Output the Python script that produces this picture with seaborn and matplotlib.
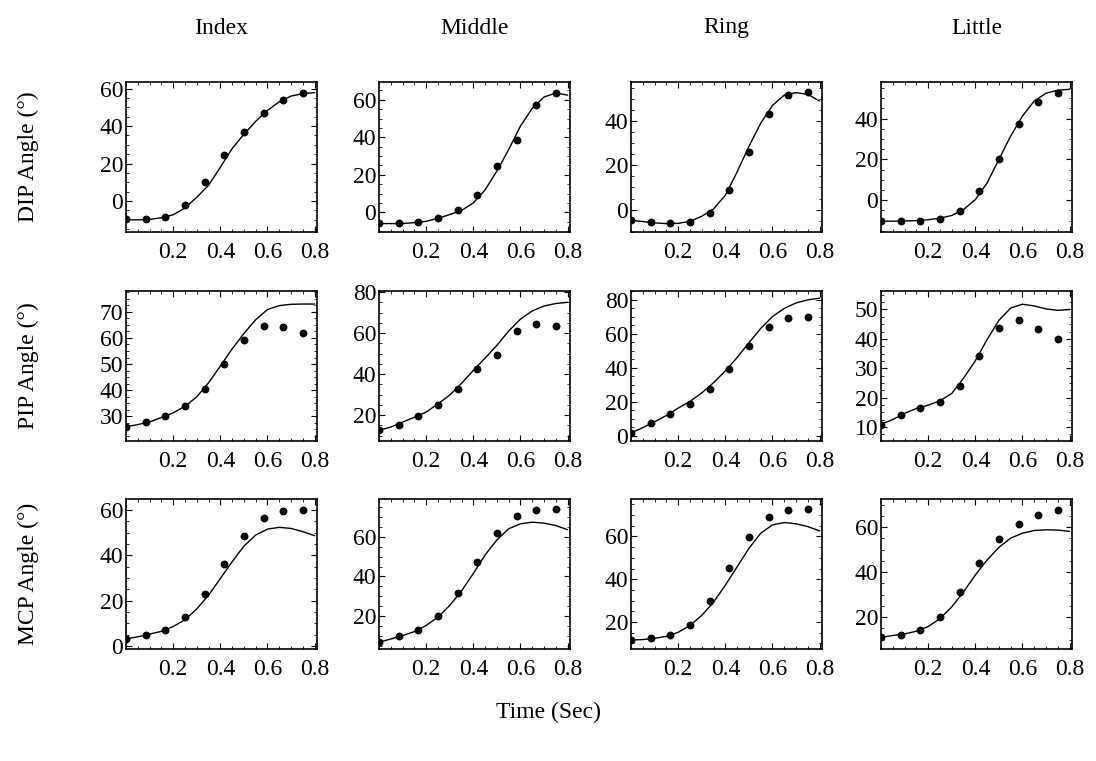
import numpy as np
import pandas as pd
import matplotlib
matplotlib.use("Agg")
import matplotlib.pyplot as plt
import seaborn as sns
from matplotlib.ticker import AutoMinorLocator

# ---------------- data ----------------
fingers = ["Index", "Middle", "Ring", "Little"]
joints = ["DIP", "PIP", "MCP"]

# measured sample times (s)
t_points = [0.0, 0.0833, 0.1667, 0.25, 0.3333, 0.4167, 0.5, 0.5833, 0.6667, 0.75]
# model curve times (s)
t_curve = [0.0, 0.05, 0.1, 0.15, 0.2, 0.25, 0.3, 0.35, 0.4, 0.45, 0.5,
           0.55, 0.6, 0.65, 0.7, 0.75, 0.8]

# measured angles (deg)
dip_index_pts = [-9.6, -9.6, -8.4, -2, 10, 24.5, 37, 47, 54, 57.7]
dip_middle_pts = [-5.7, -5.7, -5.2, -2.9, 1.1, 9.5, 24.6, 38.4, 57.3, 63.4]
dip_ring_pts = [-4.8, -5.7, -6.2, -5.4, -1.7, 8.9, 26.1, 43, 51.7, 52.9]
dip_little_pts = [-10.3, -10.3, -10.2, -9.2, -5.4, 4.3, 20.3, 37.2, 48.4, 52.8]
pip_index_pts = [25.9, 27.8, 30.1, 33.8, 40.6, 49.9, 59.1, 64.5, 64.1, 61.9]
pip_middle_pts = [12.6, 15.3, 19.4, 25, 32.7, 42.3, 49.5, 61, 64.2, 63.5]
pip_ring_pts = [1.8, 7.3, 12.9, 19, 27.6, 39.5, 53, 63.9, 69.2, 69.6]
pip_little_pts = [10.6, 14, 16.4, 18.5, 24.1, 34, 43.7, 46.3, 43.3, 39.8]
mcp_index_pts = [3.1, 4.9, 7.1, 13, 23.1, 36.4, 48.7, 56.7, 59.7, 60]
mcp_middle_pts = [7.1, 10.1, 13.4, 20.2, 31.8, 47.4, 61.7, 70.1, 73.1, 73.8]
mcp_ring_pts = [11.6, 12.5, 14.1, 18.8, 29.6, 45.2, 59.9, 69, 72.2, 72.8]
mcp_little_pts = [11, 12.2, 14.3, 20, 31, 43.9, 54.6, 61.5, 65.5, 67.5]

# model curves (deg)
dip_index_curve = [-10, -10, -9.8, -8.9, -7.3, -3.7, 2, 8.4, 18, 28, 35.6, 42.5, 48.4, 52.9, 56, 57.3, 57.8]
dip_middle_curve = [-6, -6, -6, -5.5, -4.8, -3.2, -1.2, 1, 5, 12, 22, 33.5, 46, 55.5, 61.5, 63.6, 62.5]
dip_ring_curve = [-4.8, -5.4, -6, -6.3, -6.2, -5.3, -3, 0.3, 6.5, 17, 28.5, 39, 47, 51.7, 52.8, 52, 49]
dip_little_curve = [-10.3, -10.3, -10.2, -10, -9.6, -8.8, -7.5, -4.6, 0.3, 8.5, 20, 31.5, 41.3, 48.7, 52.5, 54, 54.4]
pip_index_curve = [25.9, 26.8, 27.8, 29.5, 31.3, 33.8, 37.4, 42.8, 49.2, 55.8, 61.7, 67, 70.9, 72.4, 72.9, 73, 73]
pip_middle_curve = [12.6, 14.2, 16.6, 19, 21.5, 25.5, 29.8, 35.5, 41.8, 47.8, 54, 61, 66.8, 70.8, 73.2, 74.4, 75]
pip_ring_curve = [1.8, 4.8, 8.3, 11.9, 16.3, 20.2, 25.2, 31.2, 38.1, 46, 54.6, 63, 70, 74.8, 78, 79.8, 80.8]
pip_little_curve = [10.9, 12.5, 14.6, 16.3, 17.4, 18.9, 21.4, 26.6, 32.5, 39.8, 46.3, 50.5, 51.8, 51.2, 50.2, 49.7, 50]
mcp_index_curve = [3.1, 4.1, 5.3, 6.5, 8.6, 11.6, 16.4, 22.4, 29.8, 37.2, 44.1, 49, 51.6, 52.4, 51.9, 50.5, 48.7]
mcp_middle_curve = [7.1, 8.7, 10.4, 12.4, 15.5, 19.7, 25.5, 32.8, 41.5, 50.8, 58.3, 63.9, 66.4, 67.2, 66.7, 65.5, 63.4]
mcp_ring_curve = [11.6, 11.8, 12.4, 13.3, 15.2, 18.4, 23.1, 29.3, 37.2, 45.8, 54.4, 61.5, 65.4, 66.5, 65.9, 64.6, 62.6]
mcp_little_curve = [11, 11.8, 12.5, 13.7, 15.8, 19.3, 24.5, 31.2, 38.7, 45.4, 51, 55.1, 57.3, 58.5, 58.8, 58.7, 58.1]

x_ticks = [0.2, 0.4, 0.6, 0.8]
x_tick_labels = ["0.2", "0.4", "0.6", "0.8"]
y_ticks = [
    [[0, 20, 40, 60], [0, 20, 40, 60], [0, 20, 40], [0, 20, 40]],
    [[30, 40, 50, 60, 70], [20, 40, 60, 80], [0, 20, 40, 60, 80], [10, 20, 30, 40, 50]],
    [[0, 20, 40, 60], [20, 40, 60], [20, 40, 60], [20, 40, 60]],
]

points = [
    [dip_index_pts, dip_middle_pts, dip_ring_pts, dip_little_pts],
    [pip_index_pts, pip_middle_pts, pip_ring_pts, pip_little_pts],
    [mcp_index_pts, mcp_middle_pts, mcp_ring_pts, mcp_little_pts],
]
curves = [
    [dip_index_curve, dip_middle_curve, dip_ring_curve, dip_little_curve],
    [pip_index_curve, pip_middle_curve, pip_ring_curve, pip_little_curve],
    [mcp_index_curve, mcp_middle_curve, mcp_ring_curve, mcp_little_curve],
]

# ---------------- layout / style ----------------
y_limits = [
    [(-16.5, 63.5), (-10.5, 69.5), (-10.1, 57.6), (-15.6, 58)],
    [(20.5, 78), (7.4, 80.5), (-3, 85), (5.2, 56.3)],
    [(-1.3, 64.9), (3.7, 78.8), (7.4, 77.5), (5.8, 72.5)],
]
W, H = 1096, 761
col_left = [126, 379, 631, 881]
row_top = [82, 291, 499]
ax_w, ax_h = 191, 150

sns.set_style("ticks")
plt.rcParams["font.family"] = ["Liberation Serif", "DejaVu Serif"]
plt.rcParams["text.color"] = "black"
plt.rcParams["xtick.color"] = "black"
plt.rcParams["ytick.color"] = "black"
plt.rcParams["xtick.labelcolor"] = "black"
plt.rcParams["ytick.labelcolor"] = "black"

fig = plt.figure(figsize=(W / 100, H / 100), dpi=100)
fig.patch.set_facecolor("white")

for r in range(3):
    for c in range(4):
        ax = fig.add_axes([col_left[c] / W, 1 - (row_top[r] + ax_h) / H, ax_w / W, ax_h / H])
        dfc = pd.DataFrame({"t": t_curve, "angle": curves[r][c]})
        dfp = pd.DataFrame({"t": t_points, "angle": points[r][c]})
        sns.lineplot(data=dfc, x="t", y="angle", ax=ax, color="black", linewidth=1.0)
        sns.scatterplot(data=dfp, x="t", y="angle", ax=ax, color="black", s=32,
                        edgecolor="black", linewidth=0, zorder=3)
        ax.set_xlim(0, 0.81)
        ax.set_ylim(*y_limits[r][c])
        ax.set_xticks(x_ticks)
        ax.set_xticklabels(x_tick_labels)
        ax.set_yticks(y_ticks[r][c])
        ax.xaxis.set_minor_locator(AutoMinorLocator(4))
        ax.yaxis.set_minor_locator(AutoMinorLocator(4))
        ax.tick_params(which="major", direction="in", length=4, width=0.8,
                       top=True, right=True, labelsize=17, pad=2,
                       colors="black", labelcolor="black")
        ax.tick_params(axis="x", which="major", pad=7)
        ax.tick_params(which="minor", direction="in", length=2, width=0.6,
                       top=True, right=True, colors="black")
        ax.set_xlabel("")
        ax.set_ylabel("")
        for sp in ax.spines.values():
            sp.set_visible(True)
            sp.set_linewidth(1.2)
            sp.set_color("black")

for c, name in enumerate(fingers):
    fig.text((col_left[c] + ax_w / 2) / W, 1 - 28 / H, name, ha="center", va="center",
             fontsize=17, color="black")

for r, j in enumerate(joints):
    fig.text(28 / W, 1 - (row_top[r] + ax_h / 2) / H, f"{j} Angle (°)", ha="center", va="center",
             rotation=90, fontsize=17, color="black")

fig.text(548 / W, 1 - 712 / H, "Time (Sec)", ha="center", va="center", fontsize=17, color="black")

fig.savefig("out.png", dpi=100, facecolor="white")
